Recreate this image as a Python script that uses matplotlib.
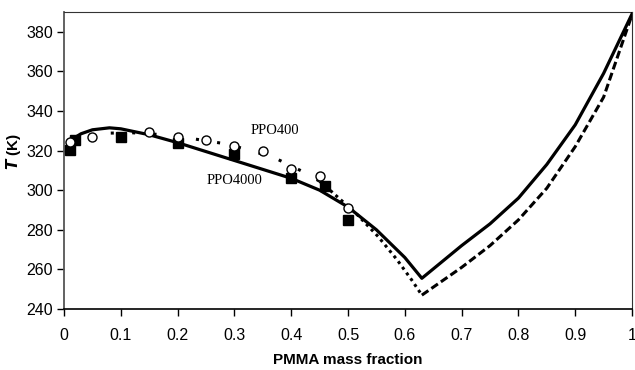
import numpy as np
import matplotlib
matplotlib.use('Agg')
import matplotlib.pyplot as plt

# PPO4000 curve (solid)
x4000 = [0.01, 0.03, 0.05, 0.08, 0.10, 0.15, 0.20, 0.25, 0.30, 0.35, 0.40, 0.45,
         0.50, 0.55, 0.60, 0.63, 0.70, 0.75, 0.80, 0.85, 0.90, 0.95, 1.00]
t4000 = [325.0, 328.5, 330.5, 331.5, 331.0, 328.0, 324.0, 319.5, 315.0, 310.5, 306.0, 300.0,
         291.5, 280.0, 266.0, 255.5, 272.0, 283.0, 296.0, 313.0, 333.0, 359.0, 389.0]

# PPO400 curve (dotted / dashed)
x400 = [0.01, 0.03, 0.075, 0.12, 0.175, 0.227, 0.278, 0.327, 0.376, 0.426, 0.45,
        0.471, 0.515, 0.553, 0.586, 0.612, 0.63, 0.70, 0.75, 0.80, 0.85, 0.90, 0.95, 1.00]
t400 = [324.0, 327.0, 328.8, 329.0, 328.0, 326.0, 323.7, 320.3, 315.6, 308.6, 304.5,
        299.3, 288.0, 276.6, 265.0, 254.7, 247.0, 261.0, 272.0, 285.0, 301.0, 322.0, 347.0, 388.6]

# experimental points
xc400 = [0.01, 0.05, 0.15, 0.20, 0.25, 0.30, 0.35, 0.40, 0.45, 0.50]
tc400 = [324.5, 327.0, 329.3, 326.8, 325.4, 322.5, 320.0, 310.5, 307.3, 290.8]
xs4000 = [0.01, 0.02, 0.10, 0.20, 0.30, 0.40, 0.46, 0.50]
ts4000 = [320.3, 325.4, 327.0, 324.0, 318.5, 306.0, 302.2, 285.0]

fig = plt.figure(figsize=(6.35, 3.70), dpi=100)
ax = fig.add_axes([0.1008, 0.1649, 0.8945, 0.8027])

# PPO400 line in three pieces with different dash patterns
i1 = x400.index(0.45)
i2 = x400.index(0.63)
ax.plot(x400[:i1 + 1], t400[:i1 + 1], color='k', lw=2.2, dashes=(1.0, 6.0), zorder=2)
ax.plot(x400[i1:i2 + 1], t400[i1:i2 + 1], color='k', lw=2.2, dashes=(1.0, 1.3), zorder=2)
ax.plot(x400[i2:], t400[i2:], color='k', lw=2.2, dashes=(2.6, 1.2), zorder=2)

ax.plot(x4000, t4000, color='k', lw=2.3, solid_joinstyle='round', zorder=3)

ax.plot(xs4000, ts4000, 's', color='k', ms=6.5, zorder=4)
ax.plot(xc400, tc400, 'o', mfc='white', mec='k', mew=1.0, ms=6.5, zorder=5)

ax.text(0.371, 330.0, 'PPO400', family='Liberation Serif', fontsize=10.5,
        ha='center', va='center')
ax.text(0.301, 304.7, 'PPO4000', family='Liberation Serif', fontsize=10.5,
        ha='center', va='center')

ax.set_xlim(0, 1)
ax.set_ylim(240, 390)
ax.set_xticks(np.arange(0, 1.01, 0.1))
ax.set_xticklabels(['0', '0.1', '0.2', '0.3', '0.4', '0.5', '0.6', '0.7', '0.8', '0.9', '1'])
ax.set_yticks(np.arange(240, 381, 20))
ax.tick_params(direction='out', length=5, width=1, labelsize=11.5, colors='k')
ax.tick_params(axis='x', pad=9)
ax.tick_params(axis='y', pad=3)
for lab in ax.get_xticklabels() + ax.get_yticklabels():
    lab.set_family('Liberation Sans')

for s in ['top', 'right']:
    ax.spines[s].set_linewidth(0.8)
    ax.spines[s].set_color('#333333')
ax.spines['left'].set_linewidth(1.3)
ax.spines['left'].set_color('#555555')
ax.spines['bottom'].set_linewidth(1.2)
ax.spines['bottom'].set_color('k')

ax.set_xlabel('PMMA mass fraction', family='Liberation Sans', fontsize=11, fontweight='bold')
ax.xaxis.set_label_coords(0.5, -0.148)
ax.set_ylabel(r'$\mathbfit{T}$ (K)', family='Liberation Sans', fontsize=11, fontweight='bold')
ax.yaxis.set_label_coords(-0.072, 0.53)

fig.savefig('out.png', dpi=100)
